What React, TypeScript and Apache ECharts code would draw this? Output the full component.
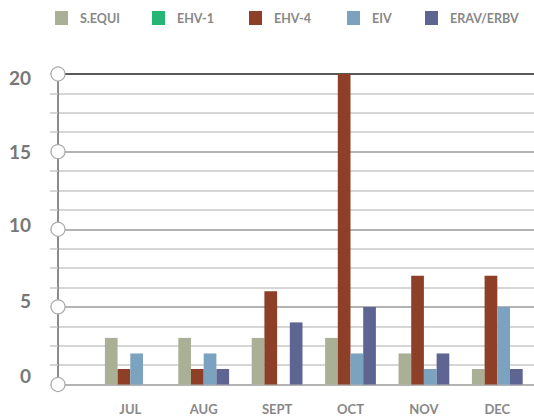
import React, { useEffect, useRef } from "react";
import * as echarts from "echarts";

const categories = ["JUL", "AUG", "SEPT", "OCT", "NOV", "DEC"];
const seriesNames = ["S.EQUI", "EHV-1", "EHV-4", "EIV", "ERAV/ERBV"];
const sEqui = [3, 3, 3, 3, 2, 1];
const ehv1 = [0, 0, 0, 0, 0, 0];
const ehv4 = [1, 1, 6, 20, 7, 7];
const eiv = [2, 2, 0, 2, 1, 5];
const erav = [0, 1, 4, 5, 2, 1];
const yTicks = [0, 5, 10, 15, 20];

const colors = ["#aab096", "#27b573", "#8d3f27", "#7ba3c0", "#5e6592"];
const legendLefts = [55, 152, 249, 347, 425];
const labelShift: Record<number, number> = { 0: 9, 5: 6, 10: 5, 15: 0, 20: -3 };

export default function App() {
  const ref = useRef<HTMLDivElement>(null);
  useEffect(() => {
    if (!ref.current) return;
    const chart = echarts.init(ref.current, undefined, { renderer: "svg" });
    const splitColors: string[] = [];
    for (let i = 0; i <= 16; i++) {
      if (i === 16) splitColors.push("#222222");
      else if (i % 4 === 0) splitColors.push("#9a9a9a");
      else splitColors.push("#c9c9c9");
    }
    const font = "Lato, 'Open Sans', sans-serif";
    const dataSets = [sEqui, ehv1, ehv4, eiv, erav];
    const barSeries = seriesNames.map((name, i) => ({
      name,
      type: "bar",
      xAxisIndex: 1,
      yAxisIndex: 1,
      stack: i <= 1 ? "eq" : undefined,
      barWidth: 12.7,
      barGap: "0%",
      itemStyle: { color: colors[i] },
      data: dataSets[i].map((v) => (v === 0 ? null : v)),
      z: 3,
    }));
    const rich: Record<string, any> = {};
    yTicks.forEach((t) => {
      const s = labelShift[t];
      rich["t" + t] = {
        color: "#777777",
        fontWeight: "bold",
        fontSize: 19,
        fontFamily: font,
        padding: s >= 0 ? [0, 0, 2 * s, 0] : [-2 * s, 0, 0, 0],
      };
    });
    chart.setOption({
      animation: false,
      legend: seriesNames.map((name, i) => ({
        data: [name],
        left: legendLefts[i],
        top: 11,
        icon: "rect",
        itemWidth: 13,
        itemHeight: 14,
        itemGap: 0,
        padding: 0,
        textStyle: {
          color: "#888888",
          fontWeight: "bold",
          fontSize: 12.5,
          fontFamily: font,
          padding: [0, 0, 0, 7],
        },
      })),
      grid: [
        { left: 58, right: -20, top: 74, bottom: 32.5 },
        { left: 93.6, right: -13.8, top: 74, bottom: 32.5 },
      ],
      xAxis: [
        { type: "value", gridIndex: 0, min: 0, max: 1, show: false },
        {
          type: "category",
          gridIndex: 1,
          data: categories,
          axisLine: { show: false },
          axisTick: { show: false },
          axisLabel: {
            color: "#888888",
            fontWeight: "bold",
            fontSize: 13,
            fontFamily: font,
            margin: 18,
          },
        },
      ],
      yAxis: [
        {
          type: "value",
          gridIndex: 0,
          min: 0,
          max: 20,
          interval: 1.25,
          axisLine: { show: true, lineStyle: { color: "#666666", width: 1.5 } },
          axisTick: {
            show: true,
            length: 8,
            lineStyle: { color: "#c9c9c9", width: 1.5 },
          },
          splitLine: {
            show: true,
            lineStyle: { color: splitColors, width: 1.5 },
          },
          axisLabel: {
            margin: 27,
            color: "#777777",
            fontWeight: "bold",
            fontSize: 19,
            fontFamily: font,
            rich,
            formatter: (v: number) =>
              yTicks.indexOf(v) >= 0 ? "{t" + v + "|" + v + "}" : "",
          },
        },
        { type: "value", gridIndex: 1, min: 0, max: 20, show: false },
      ],
      series: [
        ...barSeries,
        {
          type: "scatter",
          xAxisIndex: 0,
          yAxisIndex: 0,
          symbol: "circle",
          symbolSize: 14,
          clip: false,
          silent: true,
          z: 10,
          itemStyle: { color: "#ffffff", borderColor: "#aaaaaa", borderWidth: 1.2, opacity: 1 },
          data: yTicks.map((t) => [0, t]),
        },
      ],
    });
    return () => chart.dispose();
  }, []);
  return <div ref={ref} style={{ width: 534, height: 417, position: "absolute", left: 0, top: 0 }} />;
}
